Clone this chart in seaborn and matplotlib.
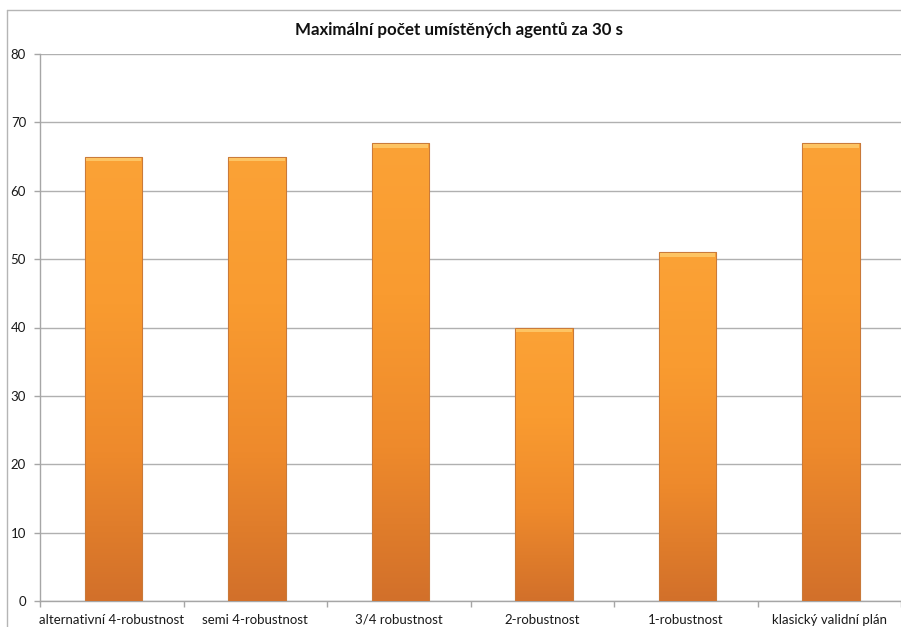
import numpy as np
import pandas as pd
import seaborn as sns
import matplotlib.pyplot as plt
from matplotlib.colors import LinearSegmentedColormap
from matplotlib.patches import Rectangle
from matplotlib.lines import Line2D

categories = [
    "alternativní 4-robustnost",
    "semi 4-robustnost",
    "3/4 robustnost",
    "2-robustnost",
    "1-robustnost",
    "klasický validní plán",
]
agents = [65, 65, 67, 40, 51, 67]
y_ticks = [0, 10, 20, 30, 40, 50, 60, 70, 80]
title = "Maximální počet umístěných agentů za 30 s"

sns.set_theme(style="white")
plt.rcParams["font.family"] = ["Lato", "DejaVu Sans"]

W, H = 901, 627
fig = plt.figure(figsize=(W / 100, H / 100), dpi=100)
ax = fig.add_axes([40 / W, 1 - 601 / H, 1 - 40 / W, (601 - 54) / H])

df = pd.DataFrame({"kategorie": categories, "agenti": agents})
sns.barplot(data=df, x="kategorie", y="agenti", width=0.4, color="#F08A2A",
            saturation=1, ax=ax, zorder=3)

ax.set_ylim(0, 80)
ax.set_xlim(-0.5, len(categories) - 0.5)

# vertical orange gradient inside every bar
grad_cmap = LinearSegmentedColormap.from_list(
    "orange_grad", ["#D2702A", "#EE8A2C", "#F99B30", "#FBA236"])
grad = np.linspace(0, 1, 256).reshape(-1, 1)
for patch in list(ax.patches):
    x0, y0 = patch.get_x() + 0.012, patch.get_y()
    w, h = patch.get_width(), patch.get_height()
    patch.set_x(x0)
    patch.set_edgecolor("#C2692B")
    patch.set_linewidth(0.8)
    im = ax.imshow(grad, cmap=grad_cmap, origin="lower", aspect="auto",
                   extent=[x0, x0 + w, y0, y0 + h], zorder=3.5,
                   interpolation="bicubic")
    im.set_clip_path(patch)
    # light bevelled cap on the top edge
    ax.add_patch(Rectangle((x0 + 0.006, y0 + h - 0.7), w - 0.012, 0.7,
                           facecolor="#FDC463", edgecolor="none", zorder=4))
    ax.add_patch(Rectangle((x0, y0 + h - 0.15), w, 0.15,
                           facecolor="#F6B04C", edgecolor="none", zorder=4))
    ax.add_patch(Rectangle((x0, y0), w, h, facecolor="none",
                           edgecolor="#C97A3A", linewidth=0.7, zorder=4.5))
ax.set_xlim(-0.5, len(categories) - 0.5)
ax.set_ylim(0, 80)

# axes styling
ax.set_yticks(y_ticks)
ax.set_yticklabels([str(v) for v in y_ticks])
ax.yaxis.grid(True, color="#B0B0B0", linewidth=1.0, zorder=0)
ax.set_axisbelow(True)
for side in ("top", "right"):
    ax.spines[side].set_visible(False)
for side in ("left", "bottom"):
    ax.spines[side].set_color("#A6A6A6")
    ax.spines[side].set_linewidth(1.0)

ax.set_xticks(range(len(categories)))
ax.set_xticklabels(categories)
ax.set_xticks(np.arange(-0.5, len(categories), 1.0), minor=True)
ax.tick_params(axis="x", which="major", length=0, pad=9, labelsize=9.5,
               labelcolor="#1A1A1A")
ax.tick_params(axis="x", which="minor", length=4, width=1.0, color="#A6A6A6",
               direction="out", bottom=True)
ax.tick_params(axis="y", length=4, width=1.0, color="#A6A6A6", left=True,
               direction="out", pad=6, labelsize=9.5, labelcolor="#1A1A1A")
ax.set_xlabel("")
ax.set_ylabel("")

fig.text(459 / W, 1 - 30 / H, title, ha="center", va="center",
         fontsize=12.2, fontweight="bold", color="#111111")

# chart area border
fig.add_artist(Line2D([7 / W, 1.0], [1 - 10 / H, 1 - 10 / H],
                      transform=fig.transFigure, color="#B5B5B5", linewidth=1.0))
fig.add_artist(Line2D([7 / W, 7 / W], [0.0, 1 - 10 / H],
                      transform=fig.transFigure, color="#B5B5B5", linewidth=1.0))

fig.savefig("out.png", dpi=100, facecolor="white")
